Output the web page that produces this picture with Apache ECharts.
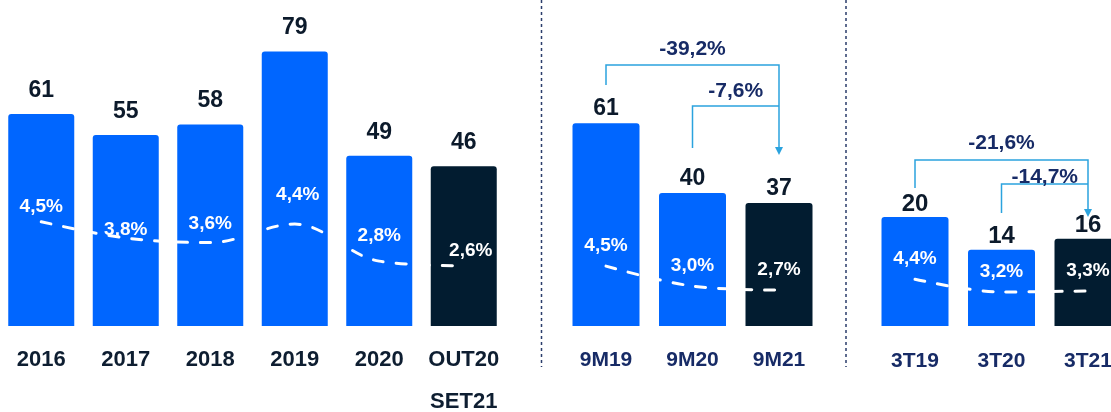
<!DOCTYPE html>
<html>
<head>
<meta charset="utf-8">
<script src="https://cdn.jsdelivr.net/npm/echarts@6/dist/echarts.min.js"></script>
<style>
  html, body { margin: 0; padding: 0; background: #fff; }
  #chart { width: 1111px; height: 412px; }
</style>
</head>
<body>
<div id="chart"></div>
<script>
// annual figures
const yearCats = ["2016", "2017", "2018", "2019", "2020", "OUT20\nSET21"];
const yearValues = [61, 55, 58, 79, 49, 46];
const yearRates = [4.5, 3.8, 3.6, 4.4, 2.8, 2.6];

// nine months
const nineCats = ["9M19", "9M20", "9M21"];
const nineValues = [61, 40, 37];
const nineRates = [4.5, 3.0, 2.7];
const nineChanges = [-39.2, -7.6];

// third quarter
const quarterCats = ["3T19", "3T20", "3T21"];
const quarterValues = [20, 14, 16];
const quarterRates = [4.4, 3.2, 3.3];
const quarterChanges = [-21.6, -14.7];

const BLUE = "#0066ff";
const DARK = "#021c30";
const NAVY = "#172b66";
const ARROW = "#2ba3de";
const FONT = "Liberation Sans, Arial, sans-serif";

const fmt = (v) => v.toFixed(1).replace(".", ",") + "%";

// hand-placed label nudges for the first block (as in the original slide)
const yearRateShift = [[0, 6], [0, 12], [0, 2], [3, -9], [0, -5], [7, 5]];

const groups = [
  {
    cats: yearCats, values: yearValues, rates: yearRates,
    grid: { left: -1, width: 507, top: 48, bottom: 86, outerBoundsMode: "none", containLabel: false },
    barMax: 80, rateMax: 12, barWidth: 66,
    valueFont: 23, valueDist: 12, catFont: 22, catColor: "#0e1e31",
    catMargin: 13, catLineHeight: 42, shift: yearRateShift,
  },
  {
    cats: nineCats, values: nineValues, rates: nineRates,
    grid: { left: 562.75, width: 259.5, top: 60, bottom: 86, outerBoundsMode: "none", containLabel: false },
    barMax: 80, rateMax: 20, barWidth: 67,
    valueFont: 23, valueDist: 3, catFont: 21, catColor: NAVY,
    catMargin: 13, catLineHeight: 42, shift: null,
  },
  {
    cats: quarterCats, values: quarterValues, rates: quarterRates,
    grid: { left: 871.75, width: 259.5, top: 108, bottom: 86, outerBoundsMode: "none", containLabel: false },
    barMax: 40, rateMax: 20.5, barWidth: 67,
    valueFont: 24, valueDist: 1, catFont: 21, catColor: NAVY,
    catMargin: 14, catLineHeight: 42, shift: null,
  },
];

const chart = echarts.init(document.getElementById("chart"), null, { renderer: "canvas" });

const grid = [], xAxis = [], yAxis = [], series = [];
groups.forEach((g, i) => {
  grid.push(g.grid);
  xAxis.push({
    type: "category", gridIndex: i, data: g.cats,
    axisLine: { show: false }, axisTick: { show: false },
    axisLabel: {
      color: g.catColor, fontSize: g.catFont, fontWeight: "bold", fontFamily: FONT,
      margin: g.catMargin, lineHeight: g.catLineHeight, interval: 0, hideOverlap: false,
    },
  });
  yAxis.push({ type: "value", gridIndex: i, min: 0, max: g.barMax, show: false });
  yAxis.push({ type: "value", gridIndex: i, min: 0, max: g.rateMax, show: false });
  const last = g.values.length - 1;
  series.push({
    type: "bar", xAxisIndex: i, yAxisIndex: i * 2, barWidth: g.barWidth,
    data: g.values,
    itemStyle: {
      color: (p) => (p.dataIndex === last ? DARK : BLUE),
      borderRadius: [3, 3, 0, 0],
    },
    label: {
      show: true, position: "top", distance: g.valueDist,
      color: "#0c1a2b", fontSize: g.valueFont, fontWeight: "bold", fontFamily: FONT,
    },
    silent: true,
  });
  series.push({
    type: "line", xAxisIndex: i, yAxisIndex: i * 2 + 1, smooth: 0.35,
    symbol: "circle", symbolSize: 0,
    data: g.rates.map((v, k) => ({
      value: v,
      label: g.shift ? { offset: g.shift[k] } : undefined,
    })),
    lineStyle: { color: "#fff", width: 3, type: [10, 13], cap: "round" },
    label: {
      show: true, position: "top", distance: 11,
      color: "#fff", fontSize: 19, fontWeight: "bold", fontFamily: FONT,
      formatter: (p) => fmt(p.value),
    },
    z: 3, silent: true,
  });
});

chart.setOption({ animation: false, grid, xAxis, yAxis, series });

// separators and change brackets, positioned from the axes
const graphic = [];
[541.5, 846].forEach((x) => {
  graphic.push({
    type: "line", shape: { x1: x, y1: 0, x2: x, y2: 367 },
    style: { stroke: "#2b3d6b", lineWidth: 1.5, lineDash: [3, 3] },
  });
});

function bracket(gi, cats, changes, ys) {
  const cx = (c) => chart.convertToPixel({ xAxisIndex: gi }, c);
  const xEnd = cx(cats[2]);
  const x0 = cx(cats[0]);
  const x1 = cx(cats[1]);
  const st = { stroke: ARROW, lineWidth: 1.5, fill: null };
  graphic.push({ type: "polyline", shape: { points: [[x0, ys.outerStart], [x0, ys.outerBar], [xEnd, ys.outerBar], [xEnd, ys.tip - 7]] }, style: st });
  graphic.push({ type: "polyline", shape: { points: [[x1, ys.innerStart], [x1, ys.innerBar], [xEnd, ys.innerBar]] }, style: st });
  graphic.push({ type: "polygon", shape: { points: [[xEnd - 4, ys.tip - 8], [xEnd + 4, ys.tip - 8], [xEnd, ys.tip]] }, style: { fill: ARROW } });
  const txt = { fill: NAVY, font: "bold 21px " + FONT, align: "center", verticalAlign: "middle" };
  graphic.push({ type: "text", x: (x0 + xEnd) / 2, y: ys.outerLabel, style: Object.assign({ text: fmt(changes[0]) }, txt) });
  graphic.push({ type: "text", x: (x1 + xEnd) / 2, y: ys.innerLabel, style: Object.assign({ text: fmt(changes[1]) }, txt) });
}

bracket(1, nineCats, nineChanges, { outerStart: 85, outerBar: 65, innerStart: 148, innerBar: 106, tip: 155, outerLabel: 49, innerLabel: 91 });
bracket(2, quarterCats, quarterChanges, { outerStart: 188, outerBar: 160, innerStart: 213, innerBar: 184, tip: 217, outerLabel: 143, innerLabel: 177 });

chart.setOption({ graphic });
</script>
</body>
</html>
